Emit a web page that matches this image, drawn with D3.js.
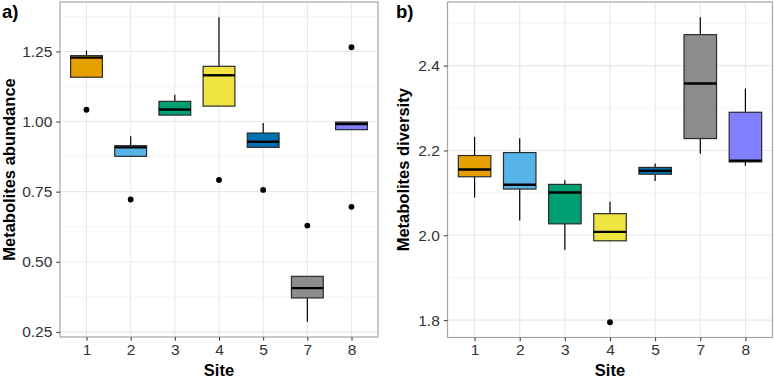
<!DOCTYPE html>
<html>
<head>
<meta charset="utf-8">
<script src="https://cdn.jsdelivr.net/npm/d3@7"></script>
<style>
  html, body { margin: 0; padding: 0; background: #fff; }
  svg { display: block; font-family: "Liberation Sans", Arial, sans-serif; }
</style>
</head>
<body>
<svg id="chart" width="774" height="378"></svg>
<script>
// ---------------- DATA ----------------
const sites = ["1", "2", "3", "4", "5", "7", "8"];
const siteColors = ["#E69F00", "#56B4E9", "#009E73", "#F0E442", "#0072B2", "#8C8C8C", "#8080FF"];

// a) Metabolites abundance
const abundLow  = [1.158, 0.876, 1.023, 1.055, 0.908, 0.286, 0.971];
const abundQ1   = [1.158, 0.876, 1.023, 1.055, 0.908, 0.371, 0.971];
const abundMed  = [1.228, 0.908, 1.043, 1.165, 0.928, 0.406, 0.991];
const abundQ3   = [1.235, 0.914, 1.072, 1.197, 0.959, 0.448, 0.998];
const abundHigh = [1.253, 0.948, 1.096, 1.372, 0.995, 0.448, 0.998];
const abundOut  = [[1.042], [0.722], [], [0.792], [0.756], [0.629], [1.265, 0.696]];
const abundTicks = [0.25, 0.50, 0.75, 1.00, 1.25];

// b) Metabolites diversity
const divLow  = [2.089, 2.035, 1.966, 1.987, 2.128, 2.192, 2.164];
const divQ1   = [2.138, 2.109, 2.027, 1.987, 2.144, 2.228, 2.173];
const divMed  = [2.155, 2.119, 2.101, 2.008, 2.152, 2.358, 2.176];
const divQ3   = [2.188, 2.195, 2.120, 2.051, 2.160, 2.473, 2.290];
const divHigh = [2.232, 2.229, 2.130, 2.079, 2.169, 2.514, 2.346];
const divOut  = [[], [], [], [1.795], [], [], []];
const divTicks = [1.8, 2.0, 2.2, 2.4];

// ---------------- DRAW ----------------
const svg = d3.select("#chart");

function panel(opts) {
  const { x0, x1, y0, y1, low, q1, med, q3, high, outs, ticks, fmt, yTitle, tag, titleX, tagX } = opts;
  const g = svg.append("g");

  // y domain: data range expanded 5%
  const allVals = [].concat(low, high, ...outs);
  const mn = d3.min(allVals), mx = d3.max(allVals);
  const pad = (mx - mn) * 0.05;
  const y = d3.scaleLinear().domain([mn - pad, mx + pad]).range([y1, y0]);

  // x: discrete with 0.6 expansion each side
  const step = (x1 - x0) / (sites.length - 1 + 1.2);
  const x = d3.scalePoint().domain(sites).range([x0 + 0.6 * step, x1 - 0.6 * step]);

  // grid
  const tstep = ticks[1] - ticks[0];
  const minor = [];
  for (let v = ticks[0] - tstep / 2; v <= y.domain()[1]; v += tstep) {
    if (v >= y.domain()[0]) minor.push(v);
  }
  g.selectAll(".minor").data(minor).enter().append("line")
    .attr("x1", x0).attr("x2", x1)
    .attr("y1", d => y(d)).attr("y2", d => y(d))
    .attr("stroke", "#F0F0F0").attr("stroke-width", 0.6);
  g.selectAll(".majory").data(ticks).enter().append("line")
    .attr("x1", x0).attr("x2", x1)
    .attr("y1", d => y(d)).attr("y2", d => y(d))
    .attr("stroke", "#E8E8E8").attr("stroke-width", 1.1);
  g.selectAll(".majorx").data(sites).enter().append("line")
    .attr("x1", d => x(d)).attr("x2", d => x(d))
    .attr("y1", y0).attr("y2", y1)
    .attr("stroke", "#E8E8E8").attr("stroke-width", 1.1);

  const bw = step * 0.72;

  sites.forEach((s, i) => {
    const cx = x(s);
    // whiskers
    if (high[i] > q3[i]) {
      g.append("line").attr("x1", cx).attr("x2", cx)
        .attr("y1", y(high[i])).attr("y2", y(q3[i]))
        .attr("stroke", "#000").attr("stroke-width", 1.2);
    }
    if (low[i] < q1[i]) {
      g.append("line").attr("x1", cx).attr("x2", cx)
        .attr("y1", y(q1[i])).attr("y2", y(low[i]))
        .attr("stroke", "#000").attr("stroke-width", 1.2);
    }
    // box
    g.append("rect")
      .attr("x", cx - bw / 2).attr("width", bw)
      .attr("y", y(q3[i])).attr("height", y(q1[i]) - y(q3[i]))
      .attr("fill", siteColors[i])
      .attr("stroke", "#2b2b2b").attr("stroke-width", 1.2);
    // median
    g.append("line")
      .attr("x1", cx - bw / 2).attr("x2", cx + bw / 2)
      .attr("y1", y(med[i])).attr("y2", y(med[i]))
      .attr("stroke", "#000").attr("stroke-width", 2.4);
    // outliers
    outs[i].forEach(v => {
      g.append("circle").attr("cx", cx).attr("cy", y(v)).attr("r", 2.9).attr("fill", "#000");
    });
  });

  // border
  g.append("rect").attr("x", x0).attr("y", y0).attr("width", x1 - x0).attr("height", y1 - y0)
    .attr("fill", "none").attr("stroke", "#A6A6A6").attr("stroke-width", 1.2);

  // y axis
  const ya = g.append("g").attr("transform", `translate(${x0},0)`)
    .call(d3.axisLeft(y).tickValues(ticks).tickFormat(d3.format(fmt)).tickSize(3.7).tickPadding(4));
  ya.select(".domain").remove();
  ya.selectAll("line").attr("stroke", "#333").attr("stroke-width", 1);
  ya.selectAll("text").attr("fill", "#333").style("font-size", "15.5px");

  // x axis
  const xa = g.append("g").attr("transform", `translate(0,${y1})`)
    .call(d3.axisBottom(x).tickSize(3.7).tickPadding(3));
  xa.select(".domain").remove();
  xa.selectAll("line").attr("stroke", "#333").attr("stroke-width", 1);
  xa.selectAll("text").attr("fill", "#333").style("font-size", "15.5px");

  // titles
  g.append("text").attr("x", (x0 + x1) / 2).attr("y", 376)
    .attr("text-anchor", "middle").style("font-size", "16.5px").style("font-weight", "bold")
    .attr("fill", "#000").text("Site");
  g.append("text")
    .attr("transform", `translate(${titleX},${(y0 + y1) / 2}) rotate(-90)`)
    .attr("text-anchor", "middle").style("font-size", "16.5px").style("font-weight", "bold")
    .attr("fill", "#000").text(yTitle);
  g.append("text").attr("x", tagX).attr("y", 18)
    .style("font-size", "18.5px").style("font-weight", "bold").attr("fill", "#000").text(tag);
}

panel({
  x0: 60, x1: 378, y0: 2, y1: 337,
  low: abundLow, q1: abundQ1, med: abundMed, q3: abundQ3, high: abundHigh, outs: abundOut,
  ticks: abundTicks, fmt: ".2f", yTitle: "Metabolites abundance", tag: "a)", titleX: 15, tagX: 2
});
panel({
  x0: 447.5, x1: 772.5, y0: 2, y1: 337.5,
  low: divLow, q1: divQ1, med: divMed, q3: divQ3, high: divHigh, outs: divOut,
  ticks: divTicks, fmt: ".1f", yTitle: "Metabolites diversity", tag: "b)", titleX: 409, tagX: 396
});
</script>
</body>
</html>
